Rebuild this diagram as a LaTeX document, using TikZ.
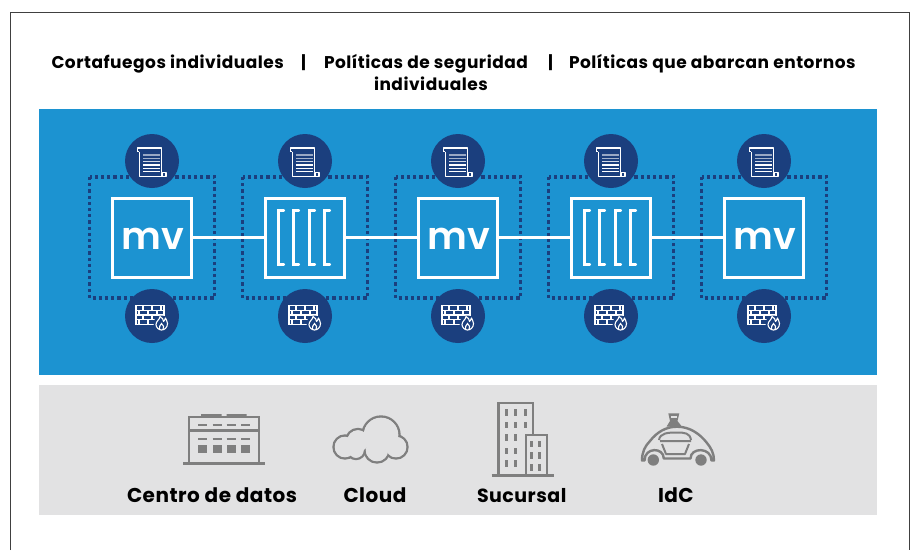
\documentclass[tikz,border=0pt]{standalone}
\usepackage{fontspec}
\setmainfont{Poppins}
\newfontfamily\spacedfont[LetterSpace=2.5]{Poppins}
\newfontfamily\headfont[LetterSpace=3]{Poppins}
\newfontfamily\mvfont{Poppins SemiBold}
\definecolor{panelblue}{HTML}{1C93D1}
\definecolor{navy}{HTML}{1B3F7E}
\definecolor{panelgray}{HTML}{E2E2E3}
\definecolor{icongray}{HTML}{7F7F7F}
\definecolor{framegray}{HTML}{404040}
\tikzset{
  headtext/.style={anchor=base west,inner sep=0,outer sep=0,font=\headfont\bfseries\fontsize{17}{18}\selectfont,text=black},
  sepbar/.style={anchor=base,inner sep=0,outer sep=0,font=\bfseries\fontsize{17}{18}\selectfont,text=black},
  labeltext/.style={anchor=base west,inner sep=0,outer sep=0,font=\spacedfont\bfseries\fontsize{20}{20}\selectfont,text=black},
  vmbox/.style={draw=white,line width=3,fill=panelblue,minimum size=79,inner sep=0,outer sep=0},
  mvtext/.style={text=white,font=\mvfont\fontsize{38}{40}\selectfont,inner sep=0,outer sep=0,anchor=base},
  dotbox/.style={draw=navy,line width=3.5,dash pattern=on 3.2 off 3},
  badge/.style={circle,fill=navy,minimum size=54,inner sep=0,outer sep=0},
  link/.style={draw=white,line width=3},
  ico/.style={draw=icongray,line width=2.4},
  scrollicon/.pic={
    \draw[white,line width=1.1,line join=round] (-12.7,-9.3) -- (-12.7,15.7) -- (10,15.7);
    \draw[white,line width=1.1,line join=round] (-14.7,-9.3) -- (-14.7,-13) -- (9.7,-13) -- (9.7,11.7) -- (14,11.7) -- (14,15.7) -- (10,15.7) -- (10,11.7);
    \draw[white,line width=1.1] (-14.7,-9.3) -- (-12.7,-9.3);
    \foreach \yy/\op in {-6/0.55,-2.7/0.6,0.6/0.8,3.9/1,7.2/1,10.5/1}
      \draw[white,opacity=\op,line width=1.2] (-8.7,\yy) -- (7.5,\yy);
  },
  wallicon/.pic={
    \draw[white,line width=1.1] (-16,-10.5) rectangle (12,8.4);
    \foreach \yy in {-5.8,-1,3.7} \draw[white,line width=1.1] (-16,\yy) -- (12,\yy);
    \foreach \xx in {-9,0,9} \draw[white,line width=1.1] (\xx,-10.5) -- (\xx,-5.8);
    \foreach \xx in {-13,-4,5} \draw[white,line width=1.1] (\xx,-5.8) -- (\xx,-1);
    \foreach \xx in {-9,0,9} \draw[white,line width=1.1] (\xx,-1) -- (\xx,3.7);
    \foreach \xx in {-13,-4,5} \draw[white,line width=1.1] (\xx,3.7) -- (\xx,8.4);
    \fill[navy] (9.5,7.5) circle[radius=8];
    \draw[white,line width=1.1,line join=round] (8,0.5) .. controls (8,3.5) and (4,5) .. (4,8.5) .. controls (4,11.5) and (7,14) .. (9.5,14) .. controls (12.5,14) and (15.5,11.5) .. (15.5,7.5) .. controls (15.5,5) and (14,4) .. (13.5,2) .. controls (13,4) and (12,5) .. (11.5,5.5) .. controls (11.5,4) and (10.5,1.5) .. (8,0.5) -- cycle;
    \draw[white,line width=1.1] (7.5,13.5) .. controls (6,10.5) and (9,9.5) .. (9.5,7.5) .. controls (11.5,9) and (12.5,11.5) .. (11,13.6);
  },
  bracket/.pic={
    \draw[white,line width=2.8,line cap=round,line join=miter] (5.5,-27) -- (0,-27) -- (0,27) -- (5.5,27);
  }
}
\begin{document}
\begin{tikzpicture}[x=1pt,y=-1pt]
\useasboundingbox (0,0) rectangle (914,550);
\fill[white] (0,0) rectangle (914,550);
\draw[framegray,line width=1] (10.3,550) -- (10.3,12.7) -- (909.7,12.7) -- (909.7,550);
\fill[panelblue] (39,109) rectangle (877,375);
\fill[panelgray] (39,385) rectangle (877,515);

\node[headtext] (h1) at (51.5,68) {Cortafuegos individuales};
\node[sepbar] (s1) at (303.5,68) {|};
\node[headtext] (h2) at (324,68) {Políticas de seguridad};
\node[headtext] (h2b) at (374,90) {individuales};
\node[sepbar] (s2) at (550.5,68) {|};
\node[headtext] (h3) at (569,68) {Políticas que abarcan entornos};

\foreach \i/\cx in {1/152,2/305,3/458,4/611,5/764}{
  \draw[dotbox] (\cx-62.5,177) rectangle (\cx+62.5,298);
}
\node[vmbox] (box1) at (152,237.5) {};
\node[vmbox] (box2) at (305,237.5) {};
\node[vmbox] (box3) at (458,237.5) {};
\node[vmbox] (box4) at (611,237.5) {};
\node[vmbox] (box5) at (764,237.5) {};
\draw[link] (box1) -- (box2);
\draw[link] (box2) -- (box3);
\draw[link] (box3) -- (box4);
\draw[link] (box4) -- (box5);
\foreach \n/\cx in {1/152.5,3/458.5,5/764.5}{
  \node[mvtext] (mv\n) at (\cx,249) {mv};
}
\foreach \n in {2,4}{
  \foreach \dx in {-26.7,-11.7,4.3,19.3}{
    \path (box\n) ++(\dx,0) pic {bracket};
  }
}
\foreach \n/\cx in {1/152,2/305,3/458,4/611,5/764}{
  \node[badge] (doc\n) at (\cx,161) {};
  \node[badge] (fw\n) at (\cx,316) {};
  \path (doc\n) pic {scrollicon};
  \path (fw\n) pic {wallicon};
}

% data centre
\draw[ico] (189,461.7) -- (189,416.7) -- (259,416.7) -- (259,461.7);
\draw[ico,line width=3] (183.3,463) -- (265,463);
\draw[ico,line width=3] (189,430) -- (259,430);
\fill[icongray] (201,414) rectangle (221.7,416.7) (226.7,414) rectangle (246.7,416.7);
\foreach \xa/\xb in {198/207.3,212.7/222,226.7/236,241/250}{
  \draw[ico,line width=1.8] (\xa,424.7) -- (\xb,424.7);
  \draw[ico,line width=1.8] (\xa,439) -- (\xb,439);
  \fill[icongray] (\xa,445) rectangle (\xb,452.7);
}
% cloud
\foreach \ccx/\ccy/\rr in {345/447/11.5,358/441/12,381/435/18.5,396/447/11.5,377/450/12.5,356/450/9}
  \draw[ico] (\ccx,\ccy) circle[radius=\rr];
\foreach \ccx/\ccy/\rr in {345/447/10.3,358/441/10.8,381/435/17.3,396/447/10.3,377/450/11.3,356/450/7.8}
  \fill[panelgray] (\ccx,\ccy) circle[radius=\rr];
% branch
\draw[ico,line width=3] (491.7,475.7) -- (554,475.7);
\draw[ico] (498.3,475.7) -- (498.3,402.7) -- (532.7,402.7) -- (532.7,435);
\draw[ico] (526,475.7) -- (526,435) -- (546.7,435) -- (546.7,475.7);
\foreach \wx in {506.7,515.7}\foreach \wy in {412.7,425,437.7,451,463.3}
  \fill[icongray] (\wx-1.5,\wy-3.3) rectangle (\wx+1.5,\wy+3.3);
\foreach \wy in {412.7,425}
  \fill[icongray] (525.7-1.5,\wy-3.3) rectangle (525.7+1.5,\wy+3.3);
\foreach \wx in {531.7,539.3}\foreach \wy in {444,455.7,467.3}
  \fill[icongray] (\wx-1.3,\wy-3.3) rectangle (\wx+1.3,\wy+3.3);
% car
\draw[ico,line join=round] (642,460.5) .. controls (642,452) and (645,446) .. (650,441) .. controls (657,432) and (666,426.7) .. (677,426.7) .. controls (690,426.7) and (700,434) .. (707,443) .. controls (711,448) and (714,453) .. (714,460.5) -- (711.5,460.5) .. controls (711.5,447) and (690.5,447) .. (690.5,458.5) -- (663.8,458.5) .. controls (663.8,447) and (644.5,447) .. (644.5,460.5) -- cycle;
\fill[icongray] (653.3,460) circle[radius=5.7] (701,460) circle[radius=5.7];
\draw[ico,line width=2,line join=round] (659,440) .. controls (660,433) and (668,432.5) .. (676.5,432.5) .. controls (685,432.5) and (690,433) .. (691,440);
\draw[ico,line width=2,line join=round] (660,441) -- (691,441) (662,444) -- (666,454) -- (685,454) -- (689,444);
\fill[icongray] (668.3,413.3) -- (679.3,413.3) -- (677.5,421) -- (682,426.7) -- (666.5,426.7) -- (670,421) -- cycle;
\fill[panelgray] (671,415.5) rectangle (676.5,418);

\node[labeltext] (l1) at (127,502) {Centro de datos};
\node[labeltext] (l2) at (343.5,502) {Cloud};
\node[labeltext,font=\spacedfont\bfseries\fontsize{19}{20}\selectfont] (l3) at (477,502) {Sucursal};
\node[labeltext] (l4) at (658,502) {IdC};
\end{tikzpicture}
\end{document}
